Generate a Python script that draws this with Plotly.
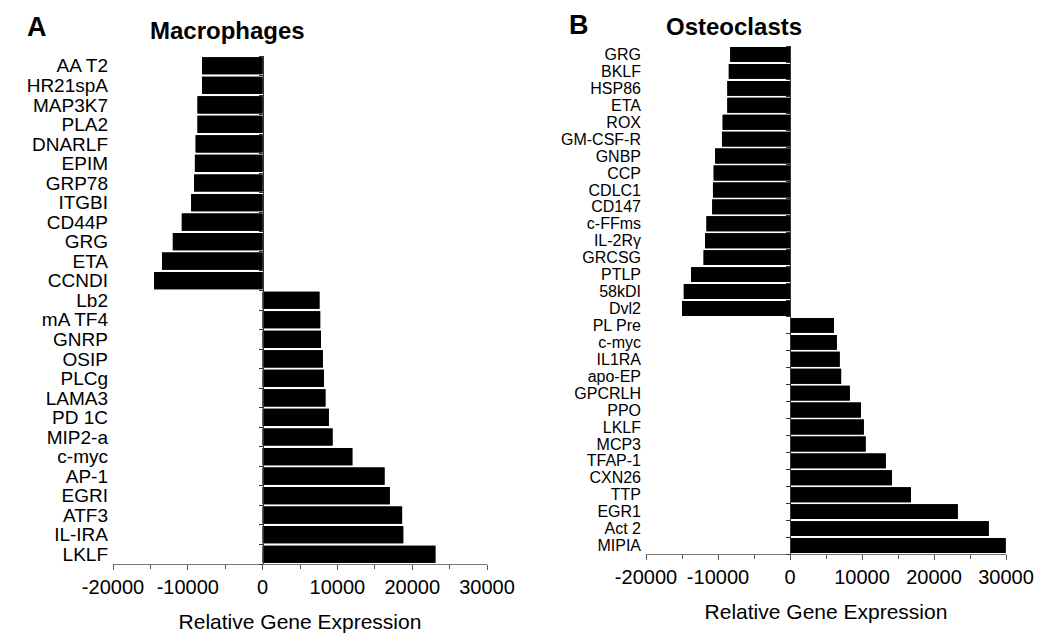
import plotly.graph_objects as go

# ---- Data ----
mac_genes = ["AA T2", "HR21spA", "MAP3K7", "PLA2", "DNARLF", "EPIM", "GRP78", "ITGBI",
             "CD44P", "GRG", "ETA", "CCNDI", "Lb2", "mA TF4", "GNRP", "OSIP", "PLCg",
             "LAMA3", "PD 1C", "MIP2-a", "c-myc", "AP-1", "EGRI", "ATF3", "IL-IRA", "LKLF"]
mac_values = [-8100, -8100, -8700, -8700, -8950, -9050, -9150, -9550,
              -10800, -12000, -13450, -14500, 7600, 7700, 7800, 8050, 8200,
              8400, 8850, 9350, 12000, 16300, 17000, 18650, 18800, 23100]

ost_genes = ["GRG", "BKLF", "HSP86", "ETA", "ROX", "GM-CSF-R", "GNBP", "CCP", "CDLC1",
             "CD147", "c-FFms", "IL-2Rγ", "GRCSG", "PTLP", "58kDI", "Dvl2", "PL Pre",
             "c-myc", "IL1RA", "apo-EP", "GPCRLH", "PPO", "LKLF", "MCP3", "TFAP-1",
             "CXN26", "TTP", "EGR1", "Act 2", "MIPIA"]
ost_values = [-8300, -8500, -8700, -8700, -9350, -9450, -10400, -10600, -10700,
              -10800, -11600, -11800, -12000, -13750, -14750, -15000, 6100,
              6500, 6900, 7100, 8300, 9850, 10250, 10500, 13300,
              14150, 16800, 23300, 27600, 29950]

x_ticks = [-20000, -10000, 0, 10000, 20000, 30000]
x_ticktext = ["-20000", "-10000", "0", "10000", "20000", "30000"]
x_range = [-20000, 30000]
x_title = "Relative Gene Expression"
panel_titles = ["Macrophages", "Osteoclasts"]
panel_letters = ["A", "B"]

FONT = "Liberation Sans, Arial, sans-serif"
W, H = 1050, 642
OFF = 8  # default page body margin


def px(p):
    return (p - OFF) / W


def py(p):
    return 1 - (p - OFF) / H


# panel geometry (target page pixels) -> paper
left_dom_x = [px(113), px(487)]
right_dom_x = [px(646), px(1006)]
left_dom_y = [py(564), py(56)]
right_dom_y = [py(554), py(46)]


def zero_pos(dom):
    return dom[0] + (0 - x_range[0]) / (x_range[1] - x_range[0]) * (dom[1] - dom[0])


fig = go.Figure()

for genes, vals, xa, ya, ya2 in [
    (mac_genes, mac_values, "x", "y", "y3"),
    (ost_genes, ost_values, "x2", "y2", "y4"),
]:
    for yy in (ya, ya2):
        fig.add_trace(go.Bar(
            x=vals, y=genes, orientation="h", xaxis=xa, yaxis=yy,
            marker=dict(color="black", line=dict(width=0)),
            showlegend=False, hoverinfo="x+y",
        ))

xaxis_common = dict(
    range=x_range, tickmode="array", tickvals=x_ticks, ticktext=x_ticktext,
    ticks="outside", ticklen=5, tickcolor="#555",
    minor=dict(ticks="outside", ticklen=4, dtick=5000, tickcolor="#555"),
    showline=True, linecolor="#777", linewidth=1,
    showgrid=False, zeroline=False,
    tickfont=dict(family=FONT, size=20, color="black"),
    title=dict(text=x_title, font=dict(family=FONT, size=21, color="black"), standoff=17),
    automargin=False, fixedrange=True,
)


def label_axis(genes, dom, size):
    return dict(
        domain=dom, type="category", autorange="reversed",
        categoryorder="array", categoryarray=genes,
        tickmode="array", tickvals=genes, ticktext=genes,
        showline=False, ticks="", showgrid=False, zeroline=False, automargin=False,
        tickfont=dict(family=FONT, size=size, color="black"),
        ticklabelstandoff=4,
    )


def zero_axis(genes, dom, overlay, pos):
    return dict(
        domain=dom, overlaying=overlay, position=pos, anchor="free",
        type="category", autorange="reversed",
        categoryorder="array", categoryarray=genes,
        tickmode="array", tickvals=genes,
        showticklabels=False, showline=True, linecolor="#333", linewidth=1,
        ticks="outside", ticklen=4, tickcolor="#333", tickson="boundaries",
        showgrid=False, zeroline=False, automargin=False,
    )


fig.update_layout(
    width=W, height=H,
    margin=dict(l=0, r=0, t=0, b=0),
    paper_bgcolor="white", plot_bgcolor="white",
    bargap=0.12,
    xaxis=dict(domain=left_dom_x, anchor="y", **xaxis_common),
    xaxis2=dict(domain=right_dom_x, anchor="y2", **xaxis_common),
    yaxis=dict(anchor="x", **label_axis(mac_genes, left_dom_y, 19)),
    yaxis2=dict(anchor="x2", **label_axis(ost_genes, right_dom_y, 16)),
    yaxis3=zero_axis(mac_genes, left_dom_y, "y", zero_pos(left_dom_x)),
    yaxis4=zero_axis(ost_genes, right_dom_y, "y2", zero_pos(right_dom_x)),
    showlegend=False,
)

annots = [
    dict(text=panel_letters[0], x=px(37), y=py(27)),
    dict(text=panel_titles[0], x=px(227), y=py(31)),
    dict(text=panel_letters[1], x=px(579), y=py(25)),
    dict(text=panel_titles[1], x=px(734), y=py(27)),
]
for a in annots:
    size = 27 if a["text"] in panel_letters else 24
    fig.add_annotation(
        text="<b>" + a["text"] + "</b>", x=a["x"], y=a["y"], xref="paper", yref="paper",
        xanchor="center", yanchor="middle", showarrow=False,
        font=dict(family=FONT, size=size, color="black"),
    )

fig.write_html("out.html")
